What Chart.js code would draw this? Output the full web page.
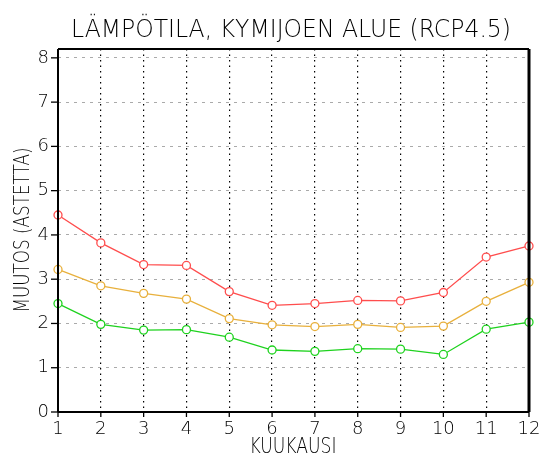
<!DOCTYPE html>
<html>
<head>
<meta charset="utf-8">
<script src="https://cdn.jsdelivr.net/npm/chart.js@4"></script>
<style>
  html, body { margin: 0; padding: 0; background: #fff; }
</style>
</head>
<body>
<canvas id="chart" width="540" height="457"></canvas>
<script>
// Data
const months = [1, 2, 3, 4, 5, 6, 7, 8, 9, 10, 11, 12];
const upperValues = [4.45, 3.82, 3.33, 3.31, 2.72, 2.41, 2.45, 2.52, 2.51, 2.70, 3.50, 3.75];
const meanValues  = [3.22, 2.85, 2.68, 2.55, 2.11, 1.97, 1.93, 1.98, 1.91, 1.94, 2.50, 2.93];
const lowerValues = [2.45, 1.98, 1.85, 1.86, 1.69, 1.40, 1.37, 1.43, 1.42, 1.30, 1.87, 2.03];
const yTicks = [0, 1, 2, 3, 4, 5, 6, 7, 8];
const xTicks = months;

const titleText = 'LÄMPÖTILA, KYMIJOEN ALUE (RCP4.5)';
const xTitle = 'KUUKAUSI';
const yTitle = 'MUUTOS (ASTETTA)';
const FONT = '"DejaVu Sans", sans-serif';

function toPoints(values) {
    return months.map((m, i) => ({ x: m, y: values[i] }));
}

function lineSet(values, color) {
    return {
        data: toPoints(values),
        borderColor: color,
        borderWidth: 1.3,
        pointRadius: 4,
        pointBorderWidth: 1.3,
        pointBackgroundColor: '#fff',
        pointBorderColor: color,
        tension: 0,
        clip: 8
    };
}

// text squeezed to a given width, centred at (cx, baseline)
function fitText(ctx, text, cx, base, width, size, angle) {
    ctx.save();
    ctx.font = '200 ' + size + 'px ' + FONT;
    ctx.fillStyle = '#000';
    ctx.textAlign = 'center';
    ctx.textBaseline = 'alphabetic';
    const w = ctx.measureText(text).width;
    ctx.translate(cx, base);
    if (angle) ctx.rotate(angle);
    ctx.scale(width / w, 1);
    ctx.fillText(text, 0, 0);
    ctx.restore();
}

// Frame, tick marks and titles
const framePlugin = {
    id: 'frame',
    afterDraw(chart) {
        const { ctx, chartArea: a, scales } = chart;
        ctx.save();
        ctx.strokeStyle = '#000';
        ctx.lineWidth = 1.3;
        yTicks.forEach(v => {
            const y = scales.y.getPixelForValue(v);
            ctx.beginPath(); ctx.moveTo(a.left - 7, y); ctx.lineTo(a.left, y); ctx.stroke();
        });
        xTicks.forEach(v => {
            const x = scales.x.getPixelForValue(v);
            ctx.beginPath(); ctx.moveTo(x, a.bottom); ctx.lineTo(x, a.bottom + 5); ctx.stroke();
        });
        ctx.lineWidth = 2;
        ctx.beginPath(); ctx.moveTo(a.left, a.top); ctx.lineTo(a.left, a.bottom); ctx.stroke();
        ctx.beginPath(); ctx.moveTo(a.left, a.bottom); ctx.lineTo(a.right, a.bottom); ctx.stroke();
        ctx.beginPath(); ctx.moveTo(a.left, a.top); ctx.lineTo(a.right, a.top); ctx.stroke();
        ctx.lineWidth = 3;
        ctx.beginPath(); ctx.moveTo(a.right, a.top); ctx.lineTo(a.right, a.bottom); ctx.stroke();
        ctx.restore();

        fitText(ctx, titleText, 291, 37, 440, 24, 0);
        fitText(ctx, xTitle, 293, 453, 87, 21, 0);
        fitText(ctx, yTitle, 29, 230, 165, 21, -Math.PI / 2);
    }
};

new Chart(document.getElementById('chart'), {
    type: 'line',
    data: {
        datasets: [
            lineSet(upperValues, '#ff4d4d'),
            lineSet(meanValues, '#e8b03c'),
            lineSet(lowerValues, '#1ed21e')
        ]
    },
    options: {
        responsive: false,
        animation: false,
        layout: { padding: { top: 49, right: 11, left: 0, bottom: 0 } },
        plugins: { legend: { display: false }, tooltip: { enabled: false } },
        scales: {
            x: {
                type: 'linear',
                min: 1,
                max: 12,
                afterBuildTicks: s => { s.ticks = xTicks.map(v => ({ value: v })); },
                afterFit: s => { s.height = 45; s.paddingLeft = 0; s.paddingRight = 0; },
                grid: { color: '#000', lineWidth: 1.2, drawTicks: false },
                border: { display: false, dash: [1.5, 4] },
                ticks: { color: '#000', padding: 7, maxRotation: 0, font: { family: FONT, size: 18, weight: 200 } }
            },
            y: {
                min: 0,
                max: 8.2,
                afterBuildTicks: s => { s.ticks = yTicks.map(v => ({ value: v })); },
                afterFit: s => { s.width = 58; s.paddingTop = 0; s.paddingBottom = 0; },
                grid: { color: '#aaa', lineWidth: 1, drawTicks: false },
                border: { display: false, dash: [3, 5] },
                ticks: { color: '#000', padding: 9, font: { family: FONT, size: 18, weight: 200 } }
            }
        }
    },
    plugins: [framePlugin]
});
</script>
</body>
</html>
